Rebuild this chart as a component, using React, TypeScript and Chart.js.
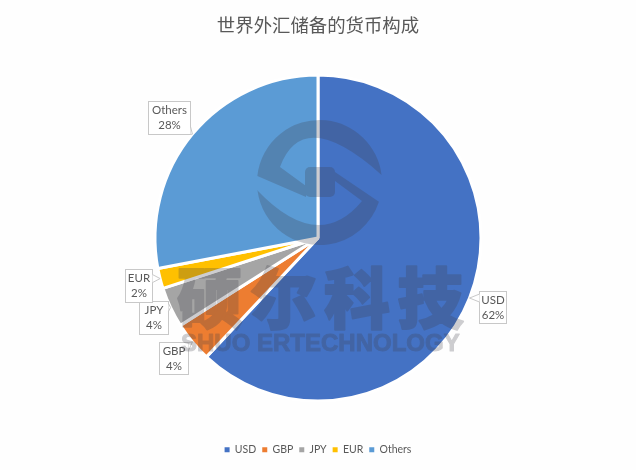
import React, { useEffect, useRef } from "react";
import { Chart, registerables } from "chart.js";

Chart.register(...registerables);

const chartTitle = "世界外汇储备的货币构成";
const categories = ["USD", "GBP", "JPY", "EUR", "Others"];
const shares = [62, 4, 4, 2, 28];
const colors = ["#4472C4", "#ED7D31", "#A5A5A5", "#FFC000", "#5B9BD5"];
const watermarkName = ["硕", "尔", "科", "技"];
const watermarkLatin = "SHUO ERTECHNOLOGY";

// Callout boxes, relative to the point on the rim at the middle of each slice
const calloutBoxes = [
  { dx: 9, dy: -7, w: 27, h: 32 },
  { dx: -33, dy: 0, w: 29, h: 32 },
  { dx: -32, dy: -6, w: 29, h: 33 },
  { dx: -35, dy: -10, w: 27, h: 33 },
  { dx: -44, dy: -33, w: 42, h: 33 },
];

const callouts = {
  id: "callouts",
  afterDatasetsDraw(chart: any) {
    const { ctx } = chart;
    const arcs = chart.getDatasetMeta(0).data;
    ctx.save();
    arcs.forEach((arc: any, i: number) => {
      const mid = (arc.startAngle + arc.endAngle) / 2;
      const tx = arc.x + Math.cos(mid) * arc.outerRadius;
      const ty = arc.y + Math.sin(mid) * arc.outerRadius;
      const b = calloutBoxes[i];
      const x = Math.round(tx + b.dx) + 0.5;
      const y = Math.round(ty + b.dy) + 0.5;
      ctx.fillStyle = "#ffffff";
      ctx.strokeStyle = "#c8c8c8";
      ctx.lineWidth = 1;
      ctx.fillRect(x, y, b.w, b.h);
      ctx.strokeRect(x, y, b.w, b.h);
      const px = Math.max(x, Math.min(x + b.w, tx));
      const py = Math.max(y, Math.min(y + b.h, ty));
      const vertical = px === x || px === x + b.w;
      const clamp = (v: number, lo: number, hi: number) => Math.max(lo, Math.min(hi, v));
      const a = vertical ? [px, clamp(py - 4, y, y + b.h - 8)] : [clamp(px - 4, x, x + b.w - 8), py];
      const c = vertical ? [px, a[1] + 8] : [a[0] + 8, py];
      ctx.beginPath();
      ctx.moveTo(a[0], a[1]);
      ctx.lineTo(tx, ty);
      ctx.lineTo(c[0], c[1]);
      ctx.closePath();
      ctx.fill();
      ctx.beginPath();
      ctx.moveTo(a[0], a[1]);
      ctx.lineTo(tx, ty);
      ctx.lineTo(c[0], c[1]);
      ctx.stroke();
      ctx.fillStyle = "#595959";
      ctx.font = "11.5px Lato, 'Open Sans', sans-serif";
      ctx.textAlign = "center";
      ctx.textBaseline = "middle";
      ctx.fillText(categories[i], x + b.w / 2, y + b.h / 2 - 7.5);
      ctx.fillText(shares[i] + "%", x + b.w / 2, y + b.h / 2 + 7.5);
    });
    ctx.restore();
  },
};

const watermark = {
  id: "watermark",
  afterDraw(chart: any) {
    const layer = document.createElement("canvas");
    layer.width = chart.width;
    layer.height = chart.height;
    const g = layer.getContext("2d") as CanvasRenderingContext2D;
    g.fillStyle = "#3e3e48";
    g.strokeStyle = "#3e3e48";

    const cx = 319.5, cy = 182.5, ro = 62.5;
    const rad = (d: number) => (d * Math.PI) / 180;
    // upper half of the S
    g.beginPath();
    g.arc(cx, cy, ro, rad(186), rad(353));
    g.quadraticCurveTo(303, 105, 280, 167);
    g.lineTo(306, 186);
    g.lineTo(306, 197);
    g.closePath();
    g.fill();
    // lower half of the S
    g.beginPath();
    g.arc(cx, cy, ro, rad(172), rad(18), true);
    g.lineTo(335, 172);
    g.lineTo(335, 181);
    g.lineTo(362, 201);
    g.quadraticCurveTo(318, 254, 257, 190);
    g.closePath();
    g.fill();
    g.beginPath();
    g.roundRect(305, 167, 30, 30, 5);
    g.fill();

    // name
    g.textAlign = "center";
    g.textBaseline = "middle";
    g.font = "900 66px 'Noto Sans CJK SC', sans-serif";
    g.lineWidth = 2;
    g.lineJoin = "round";
    watermarkName.forEach((ch, i) => {
      g.fillText(ch, 210 + i * 73.5, 298);
      g.strokeText(ch, 210 + i * 73.5, 298);
    });
    g.font = "bold 24px 'Liberation Sans', sans-serif";
    g.textAlign = "left";
    g.lineWidth = 1;
    g.fillText(watermarkLatin, 181, 344, 281);
    g.strokeText(watermarkLatin, 181, 344, 281);

    const { ctx } = chart;
    ctx.save();
    ctx.globalAlpha = 0.25;
    ctx.drawImage(layer, 0, 0);
    ctx.restore();
  },
};

export default function App() {
  const ref = useRef<HTMLCanvasElement | null>(null);
  useEffect(() => {
    const baseLabels = (Chart as any).overrides.pie.plugins.legend.labels.generateLabels;
    const chart = new Chart(ref.current as HTMLCanvasElement, {
      type: "pie",
      data: {
        labels: categories,
        datasets: [
          {
            data: shares,
            backgroundColor: colors,
            borderColor: "#ffffff",
            borderWidth: 3,
            radius: 163,
          },
        ],
      },
      options: {
        animation: false,
        responsive: false,
        layout: { padding: { top: 8, bottom: 5, left: 0, right: 0 } },
        plugins: {
          tooltip: { enabled: false },
          title: {
            display: true,
            text: chartTitle,
            color: "#595959",
            font: { family: "'Noto Sans CJK SC', sans-serif", size: 18.4, weight: "normal" },
            padding: { top: 6, bottom: 1.5 },
          },
          legend: {
            position: "bottom",
            labels: {
              color: "#595959",
              font: { family: "Lato, 'Open Sans', sans-serif", size: 10.5 },
              boxWidth: 5,
              boxHeight: 5,
              padding: 6,
              generateLabels: (c: any) =>
                baseLabels(c).map((item: any) => ({ ...item, lineWidth: 0 })),
            },
          },
        },
      },
      plugins: [callouts, watermark],
    } as any);
    return () => chart.destroy();
  }, []);
  return (
    <canvas
      ref={ref}
      width={636}
      height={470}
      style={{ position: "absolute", left: 0, top: 0, display: "block", background: "#fefefe" }}
    />
  );
}
